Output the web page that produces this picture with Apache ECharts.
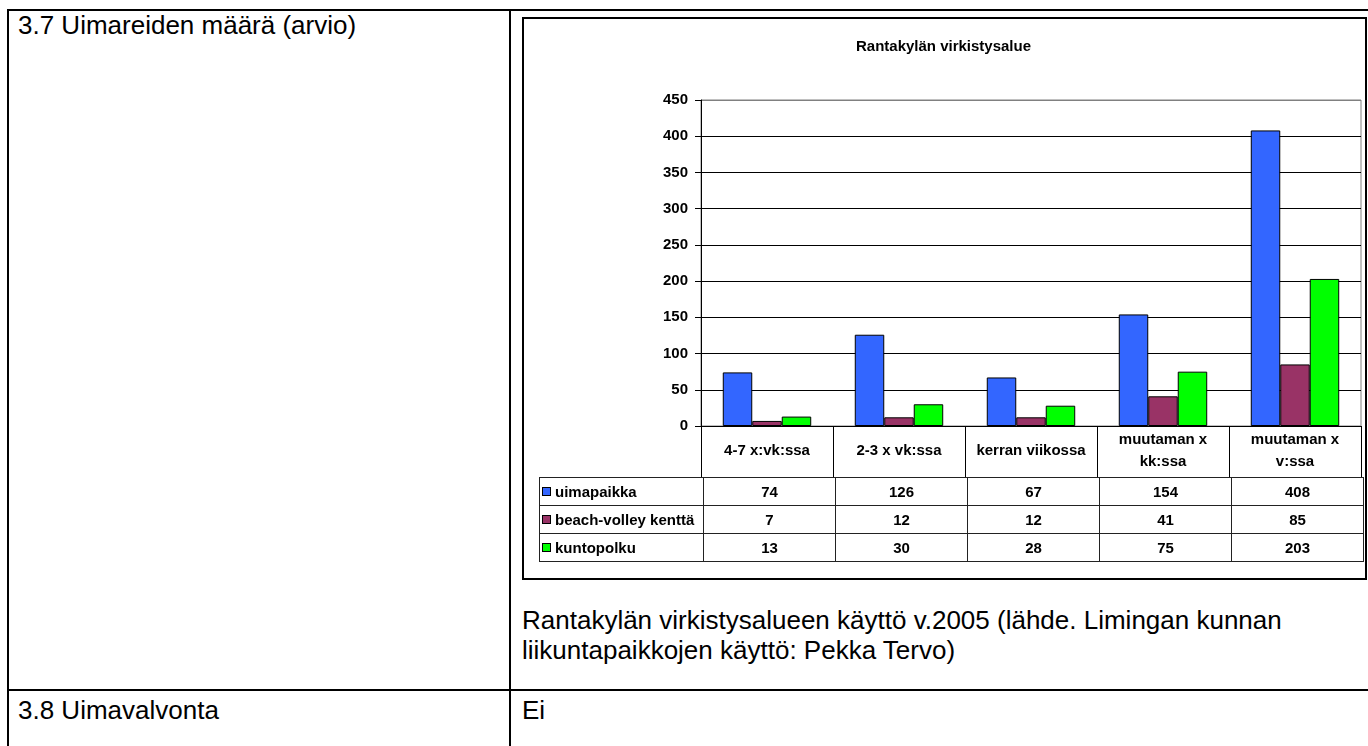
<!DOCTYPE html>
<html>
<head>
<meta charset="utf-8">
<script src="https://cdn.jsdelivr.net/npm/echarts@6/dist/echarts.min.js"></script>
<style>
  body { margin: 0; width: 1368px; height: 746px; overflow: hidden; background: #fff; font-family: "Liberation Sans", Arial, sans-serif; }
  .line { position: absolute; background: #000; }
  .txt { position: absolute; font-size: 26px; line-height: 30px; color: #000; white-space: nowrap; }
  .chart-box { position: absolute; left: 522px; top: 17px; width: 841px; height: 559px; border: 2px solid #000; }
  #chart { position: absolute; left: 522px; top: 17px; width: 843px; height: 561px; }
  #dataTable { position: absolute; left: 539px; top: 477px; border-collapse: collapse; font-size: 15px; font-weight: bold; }
  #dataTable td { border: 1px solid #222; height: 27px; padding: 0; text-align: center; }
  #dataTable td.name { width: 161px; text-align: left; padding-left: 2px; }
  #dataTable td.val { width: 131px; }
  .key { display: inline-block; width: 7px; height: 7px; border: 1px solid #000; margin-right: 4px; vertical-align: 1px; }
</style>
</head>
<body>
  <!-- document table lines -->
  <div class="line" style="left:8px;top:9px;width:1360px;height:2px"></div>
  <div class="line" style="left:7px;top:9px;width:2px;height:737px"></div>
  <div class="line" style="left:509px;top:9px;width:2px;height:737px"></div>
  <div class="line" style="left:8px;top:689px;width:1360px;height:2px"></div>

  <div class="txt" style="left:18px;top:10px">3.7 Uimareiden määrä (arvio)</div>
  <div class="txt" style="left:522px;top:605px">Rantakylän virkistysalueen käyttö v.2005 (lähde. Limingan kunnan<br>liikuntapaikkojen käyttö: Pekka Tervo)</div>
  <div class="txt" style="left:18px;top:695px">3.8 Uimavalvonta</div>
  <div class="txt" style="left:522px;top:695px">Ei</div>

  <div class="chart-box"></div>
  <div id="chart"></div>
  <table id="dataTable"></table>

<script>
const title = "Rantakylän virkistysalue";
const categories = ["4-7 x:vk:ssa", "2-3 x vk:ssa", "kerran viikossa", "muutaman x\nkk:ssa", "muutaman x\nv:ssa"];
const seriesNames = ["uimapaikka", "beach-volley kenttä", "kuntopolku"];
const uimapaikka = [74, 126, 67, 154, 408];
const beachVolley = [7, 12, 12, 41, 85];
const kuntopolku = [13, 30, 28, 75, 203];
const yMin = 0;
const yMax = 450;
const yStep = 50;

const colors = ["#3366FF", "#993366", "#00FF00"];
const values = [uimapaikka, beachVolley, kuntopolku];

// splitlines black, top one grey like the plot border
const gridColors = [];
for (let v = yMin; v <= yMax; v += yStep) gridColors.push(v === yMax ? "#808080" : "#000");

const chart = echarts.init(document.getElementById("chart"));
chart.setOption({
  animation: false,
  title: {
    text: title,
    left: "center",
    top: 22,
    padding: 0,
    textStyle: { fontSize: 15, fontWeight: "bold", color: "#000", fontFamily: "Liberation Sans" },
  },
  grid: {
    left: 179,
    right: 4,
    top: 83,
    bottom: 152,
    containLabel: false,
    outerBoundsMode: "none",
    show: true,
    borderColor: "#808080",
    borderWidth: 1,
  },
  xAxis: {
    type: "category",
    data: categories,
    axisLine: { lineStyle: { color: "#000", width: 1 } },
    axisTick: { show: true, length: 51, interval: 0, lineStyle: { color: "#000" } },
    axisLabel: {
      interval: 0,
      margin: 25,
      verticalAlign: "middle",
      lineHeight: 22,
      color: "#000",
      fontSize: 15,
      fontWeight: "bold",
      fontFamily: "Liberation Sans",
    },
  },
  yAxis: {
    type: "value",
    min: yMin,
    max: yMax,
    interval: yStep,
    axisLine: { show: true, lineStyle: { color: "#000" } },
    axisTick: { show: true, length: 6, lineStyle: { color: "#000" } },
    axisLabel: { margin: 13, color: "#000", fontSize: 15, fontWeight: "bold", fontFamily: "Liberation Sans" },
    splitLine: { lineStyle: { color: gridColors, width: 1 } },
  },
  series: seriesNames.map((name, i) => ({
    name: name,
    type: "bar",
    data: values[i],
    barGap: "0%",
    barCategoryGap: "33%",
    itemStyle: { color: colors[i], borderColor: "#000", borderWidth: 1 },
  })),
});

// data table under the axis
const table = document.getElementById("dataTable");
seriesNames.forEach((name, i) => {
  const tr = document.createElement("tr");
  let html = '<td class="name"><span class="key" style="background:' + colors[i] + '"></span>' + name + "</td>";
  values[i].forEach((v) => { html += '<td class="val">' + v + "</td>"; });
  tr.innerHTML = html;
  table.appendChild(tr);
});
</script>
</body>
</html>
